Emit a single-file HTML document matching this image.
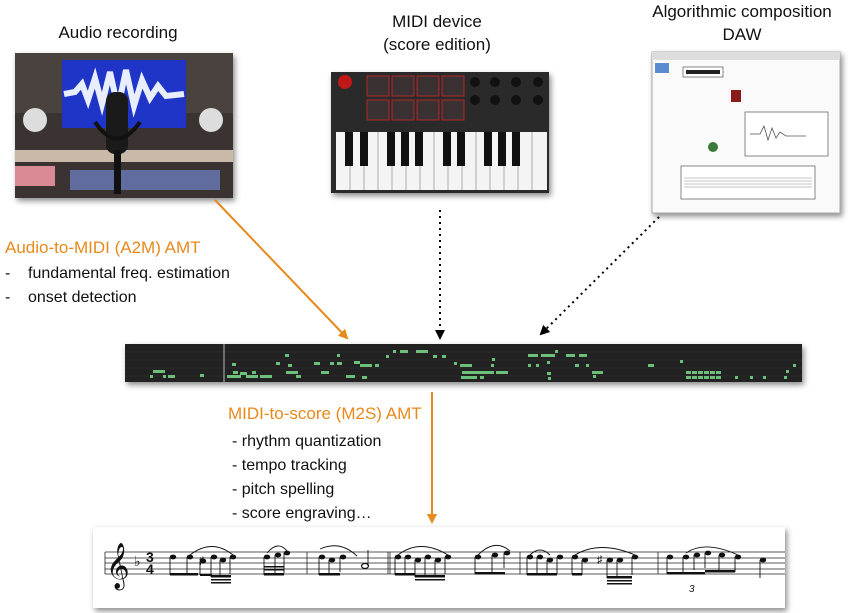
<!DOCTYPE html>
<html><head><meta charset="utf-8"><style>
html,body{margin:0;padding:0;background:#fff;}
svg{display:block;font-family:"Liberation Sans",Arial,sans-serif;}
</style></head><body>
<svg width="850" height="613" viewBox="0 0 850 613" xmlns="http://www.w3.org/2000/svg">
<defs>
<filter id="sh" x="-10%" y="-10%" width="130%" height="140%"><feDropShadow dx="2" dy="3" stdDeviation="3" flood-color="#000" flood-opacity="0.45"/></filter>
<marker id="ao" markerWidth="10" markerHeight="10" refX="8" refY="5" orient="auto" markerUnits="userSpaceOnUse"><path d="M0,0 L10,5 L0,10 z" fill="#e8891c"/></marker>
<marker id="ak" markerWidth="10" markerHeight="10" refX="8" refY="5" orient="auto" markerUnits="userSpaceOnUse"><path d="M0,0 L10,5 L0,10 z" fill="#000"/></marker>
</defs>

<g font-size="17" fill="#111" text-anchor="middle">
<text x="118" y="38">Audio recording</text>
<text x="437" y="27">MIDI device</text>
<text x="437" y="50">(score edition)</text>
<text x="742" y="17">Algorithmic composition</text>
<text x="742" y="40">DAW</text>
</g>

<!-- audio photo -->
<g filter="url(#sh)"><rect x="15" y="53" width="218" height="145" fill="#3a3230"/></g>
<rect x="15" y="53" width="218" height="60" fill="#4a423e"/>
<rect x="62" y="60" width="124" height="68" fill="#1f35c8"/>
<path d="M64,94 L75,92 L82,84 L88,100 L95,78 L102,104 L110,72 L118,108 L126,70 L134,106 L142,80 L150,98 L158,86 L166,96 L184,94" stroke="#e8eefc" stroke-width="6" fill="none"/>
<circle cx="35" cy="120" r="12" fill="#ddd"/><circle cx="211" cy="120" r="12" fill="#ddd"/>
<rect x="15" y="150" width="218" height="12" fill="#c9b9a8"/>
<rect x="15" y="166" width="40" height="20" fill="#d88b95"/>
<rect x="70" y="170" width="150" height="20" fill="#6a7bb8" opacity="0.8"/>
<rect x="106" y="92" width="22" height="62" rx="9" fill="#1a1a1a"/>
<rect x="114" y="150" width="7" height="44" fill="#111"/>
<path d="M95,122 Q117,155 140,122" stroke="#111" stroke-width="4" fill="none"/>

<!-- keyboard -->
<g filter="url(#sh)"><rect x="331" y="72" width="218" height="121" fill="#2a2a2c"/></g>
<circle cx="345" cy="82" r="7" fill="#c01818"/>
<g fill="#3a3232" stroke="#b02828" stroke-width="1">
<rect x="367" y="76" width="22" height="20"/><rect x="392" y="76" width="22" height="20"/><rect x="417" y="76" width="22" height="20"/><rect x="442" y="76" width="22" height="20"/>
<rect x="367" y="100" width="22" height="20"/><rect x="392" y="100" width="22" height="20"/><rect x="417" y="100" width="22" height="20"/><rect x="442" y="100" width="22" height="20"/>
</g>
<g fill="#111"><circle cx="475" cy="82" r="5"/><circle cx="495" cy="82" r="5"/><circle cx="516" cy="82" r="5"/><circle cx="538" cy="82" r="5"/>
<circle cx="475" cy="100" r="5"/><circle cx="495" cy="100" r="5"/><circle cx="516" cy="100" r="5"/><circle cx="538" cy="100" r="5"/></g>
<rect x="336" y="132" width="211" height="58" fill="#f4f4f4"/>
<path d="M350,132V190M364,132V190M378,132V190M392,132V190M406,132V190M420,132V190M434,132V190M448,132V190M462,132V190M476,132V190M490,132V190M504,132V190M518,132V190M532,132V190" stroke="#999" stroke-width="0.8"/>
<g fill="#111"><rect x="345" y="132" width="8" height="34"/><rect x="360" y="132" width="8" height="34"/><rect x="387" y="132" width="8" height="34"/><rect x="401" y="132" width="8" height="34"/><rect x="415" y="132" width="8" height="34"/><rect x="443" y="132" width="8" height="34"/><rect x="457" y="132" width="8" height="34"/><rect x="484" y="132" width="8" height="34"/><rect x="498" y="132" width="8" height="34"/><rect x="512" y="132" width="8" height="34"/></g>

<!-- DAW -->
<g filter="url(#sh)"><rect x="652" y="52" width="188" height="161" fill="#fafafa" stroke="#aaa"/></g>
<rect x="652" y="52" width="188" height="8" fill="#ddd"/>
<rect x="655" y="63" width="14" height="10" fill="#5a8bd0"/>
<rect x="683" y="67" width="40" height="10" fill="#fff" stroke="#555" stroke-width="0.7"/>
<path d="M686,72 h34" stroke="#222" stroke-width="4"/>
<rect x="731" y="90" width="10" height="12" fill="#8b1a1a"/>
<rect x="745" y="112" width="83" height="44" fill="#fff" stroke="#555" stroke-width="0.7"/>
<path d="M750,134 l10,0 l4,-8 l4,14 l4,-12 l4,10 l4,-6 l6,4 l20,0" stroke="#555" fill="none" stroke-width="0.8"/>
<circle cx="713" cy="147" r="5" fill="#3a7a3a"/>
<rect x="681" y="166" width="134" height="33" fill="#fff" stroke="#555" stroke-width="0.7"/>
<path d="M684,178h128M684,181h128M684,184h128M684,187h128" stroke="#888" stroke-width="0.5"/>

<!-- connectors -->
<line x1="215" y1="200" x2="347" y2="338" stroke="#e8891c" stroke-width="2" marker-end="url(#ao)"/>
<line x1="440" y1="210" x2="440" y2="338" stroke="#000" stroke-width="2" stroke-dasharray="2,4" marker-end="url(#ak)"/>
<line x1="659" y1="217" x2="541" y2="334" stroke="#000" stroke-width="2" stroke-dasharray="2,4" marker-end="url(#ak)"/>
<line x1="432" y1="392" x2="432" y2="522" stroke="#e8891c" stroke-width="2" marker-end="url(#ao)"/>

<text x="5" y="253" font-size="17" fill="#e8891c">Audio-to-MIDI (A2M) AMT</text>
<g font-size="16" fill="#111">
<text x="5" y="278">-</text><text x="28" y="278">fundamental freq. estimation</text>
<text x="5" y="302">-</text><text x="28" y="302">onset detection</text>
</g>
<text x="228" y="419" font-size="17" fill="#e8891c">MIDI-to-score (M2S) AMT</text>
<g font-size="16" fill="#111">
<text x="232" y="446">- rhythm quantization</text>
<text x="232" y="470">- tempo tracking</text>
<text x="232" y="494">- pitch spelling</text>
<text x="232" y="518">- score engraving…</text>
</g>

<!-- piano roll -->
<g filter="url(#sh)"><rect x="125" y="344" width="677" height="38" fill="#222"/></g>
<path d="M125,352h677M125,360h677M125,368h677M125,376h677" stroke="#333" stroke-width="0.6"/>
<line x1="224" y1="344" x2="224" y2="382" stroke="#bbb" stroke-width="1"/>
<g fill="#6cc07a">
<rect x="153" y="370" width="12" height="3"/><rect x="150" y="375" width="3" height="3"/><rect x="163" y="375" width="3" height="3"/><rect x="168" y="375" width="7" height="3"/>
<rect x="200" y="374" width="4" height="3"/>
<rect x="227" y="375" width="14" height="3"/><rect x="246" y="375" width="12" height="3"/><rect x="260" y="375" width="12" height="3"/>
<rect x="233" y="371" width="5" height="3"/><rect x="240" y="372" width="7" height="3"/><rect x="252" y="371" width="4" height="3"/>
<rect x="232" y="363" width="4" height="3"/><rect x="286" y="371" width="12" height="3"/><rect x="296" y="375" width="5" height="3"/>
<rect x="276" y="362" width="4" height="3"/><rect x="288" y="364" width="4" height="3"/>
<rect x="285" y="354" width="4" height="3"/><rect x="314" y="362" width="6" height="3"/><rect x="321" y="371" width="8" height="3"/>
<rect x="330" y="362" width="4" height="3"/><rect x="337" y="362" width="5" height="3"/><rect x="337" y="354" width="3" height="3"/>
<rect x="346" y="375" width="9" height="3"/><rect x="354" y="361" width="6" height="3"/><rect x="360" y="364" width="12" height="3"/><rect x="362" y="376" width="5" height="3"/>
<rect x="375" y="364" width="4" height="3"/><rect x="386" y="355" width="3" height="3"/><rect x="393" y="350" width="3" height="3"/>
<rect x="400" y="350" width="8" height="3"/><rect x="416" y="350" width="12" height="3"/><rect x="433" y="355" width="4" height="3"/><rect x="442" y="355" width="4" height="3"/>
<rect x="454" y="362" width="3" height="3"/><rect x="460" y="364" width="12" height="3"/>
<rect x="462" y="371" width="32" height="3"/><rect x="461" y="376" width="16" height="3"/><rect x="480" y="376" width="4" height="3"/><rect x="496" y="371" width="12" height="3"/>
<rect x="491" y="364" width="3" height="3"/><rect x="492" y="358" width="3" height="3"/>
<rect x="528" y="354" width="10" height="3"/><rect x="541" y="354" width="14" height="3"/><rect x="555" y="350" width="3" height="3"/>
<rect x="566" y="354" width="9" height="3"/><rect x="579" y="354" width="8" height="3"/>
<rect x="528" y="364" width="3" height="3"/><rect x="536" y="364" width="3" height="3"/><rect x="547" y="361" width="3" height="3"/>
<rect x="547" y="372" width="4" height="3"/><rect x="548" y="377" width="3" height="3"/>
<rect x="575" y="364" width="4" height="3"/><rect x="586" y="364" width="3" height="3"/>
<rect x="592" y="371" width="11" height="3"/><rect x="593" y="375" width="3" height="3"/>
<rect x="648" y="364" width="6" height="3"/><rect x="680" y="360" width="3" height="3"/>
<rect x="686" y="371" width="5" height="3"/><rect x="692" y="371" width="5" height="3"/><rect x="698" y="371" width="5" height="3"/><rect x="704" y="371" width="5" height="3"/><rect x="710" y="371" width="5" height="3"/><rect x="716" y="371" width="5" height="3"/>
<rect x="686" y="376" width="5" height="3"/><rect x="692" y="376" width="5" height="3"/><rect x="698" y="376" width="5" height="3"/><rect x="704" y="376" width="5" height="3"/><rect x="710" y="376" width="5" height="3"/><rect x="716" y="376" width="5" height="3"/>
<rect x="735" y="376" width="3" height="3"/><rect x="750" y="376" width="3" height="3"/><rect x="763" y="376" width="3" height="3"/><rect x="784" y="376" width="3" height="3"/>
<rect x="786" y="370" width="3" height="3"/><rect x="793" y="364" width="3" height="3"/>
</g>

<!-- score -->
<g filter="url(#sh)"><rect x="93" y="527" width="692" height="81" fill="#fff"/></g>
<g stroke="#222" stroke-width="0.8">
<path d="M105,552h680M105,558h680M105,563h680M105,569h680M105,574h680"/>
<path d="M105,552v22M307,552v22M390,552v22M388,552v22M520,552v22M658,552v22"/>
</g>
<text x="106" y="579" font-size="40" font-family="DejaVu Serif,serif" fill="#111">𝄞</text>
<text x="134" y="566" font-size="14" fill="#111">♭</text>
<text x="146" y="562" font-size="14" font-weight="bold" fill="#111">3</text>
<text x="146" y="574" font-size="14" font-weight="bold" fill="#111">4</text>
<g fill="#111">
<ellipse cx="173" cy="557" rx="3.2" ry="2.4"/><ellipse cx="190" cy="557" rx="3.2" ry="2.4"/><ellipse cx="203" cy="561" rx="3.2" ry="2.4"/><ellipse cx="214" cy="557" rx="3.2" ry="2.4"/><ellipse cx="223" cy="560" rx="3.2" ry="2.4"/><ellipse cx="233" cy="557" rx="3.2" ry="2.4"/>
<ellipse cx="267" cy="557" rx="3.2" ry="2.4"/><ellipse cx="278" cy="555" rx="3.2" ry="2.4"/><ellipse cx="287" cy="553" rx="3.2" ry="2.4"/>
<ellipse cx="322" cy="557" rx="3.2" ry="2.4"/><ellipse cx="332" cy="560" rx="3.2" ry="2.4"/><ellipse cx="343" cy="557" rx="3.2" ry="2.4"/>
<ellipse cx="398" cy="557" rx="3.2" ry="2.4"/><ellipse cx="408" cy="557" rx="3.2" ry="2.4"/><ellipse cx="418" cy="560" rx="3.2" ry="2.4"/><ellipse cx="428" cy="557" rx="3.2" ry="2.4"/><ellipse cx="438" cy="560" rx="3.2" ry="2.4"/><ellipse cx="448" cy="557" rx="3.2" ry="2.4"/><ellipse cx="478" cy="557" rx="3.2" ry="2.4"/><ellipse cx="495" cy="555" rx="3.2" ry="2.4"/><ellipse cx="507" cy="553" rx="3.2" ry="2.4"/>
<ellipse cx="530" cy="557" rx="3.2" ry="2.4"/><ellipse cx="540" cy="557" rx="3.2" ry="2.4"/><ellipse cx="550" cy="560" rx="3.2" ry="2.4"/><ellipse cx="560" cy="557" rx="3.2" ry="2.4"/><ellipse cx="575" cy="557" rx="3.2" ry="2.4"/><ellipse cx="585" cy="560" rx="3.2" ry="2.4"/><ellipse cx="610" cy="560" rx="3.2" ry="2.4"/><ellipse cx="620" cy="560" rx="3.2" ry="2.4"/><ellipse cx="635" cy="557" rx="3.2" ry="2.4"/>
<ellipse cx="670" cy="557" rx="3.2" ry="2.4"/><ellipse cx="686" cy="557" rx="3.2" ry="2.4"/><ellipse cx="697" cy="555" rx="3.2" ry="2.4"/><ellipse cx="708" cy="553" rx="3.2" ry="2.4"/><ellipse cx="722" cy="555" rx="3.2" ry="2.4"/><ellipse cx="738" cy="557" rx="3.2" ry="2.4"/><ellipse cx="763" cy="560" rx="3.2" ry="2.4"/>
</g>
<ellipse cx="365" cy="566" rx="3.5" ry="2.5" fill="none" stroke="#111" stroke-width="1.2"/>
<g stroke="#111" stroke-width="0.9" fill="none">
<path d="M170,557v18M187,557v18M200,561v14M211,557v20M220,560v17M230,557v17M264,557v18M275,555v18M284,553v20M319,557v18M329,560v15M340,557v15M368,566v-16"/>
<path d="M395,557v18M405,557v18M415,560v17M425,557v20M435,560v17M445,557v17M475,557v17M492,555v17M504,553v15M527,557v18M537,557v18M547,560v15M557,557v17M572,557v17M582,560v15M607,560v18M617,560v18M632,557v18M667,557v17M683,557v17M694,555v15M705,553v15M719,555v15M735,557v15M760,560v18"/>
<path d="M190,555 Q212,538 233,555M267,553 Q278,540 287,551M320,549 Q340,540 357,556M398,555 Q420,538 448,555M478,555 Q495,538 510,551M530,555 Q540,545 550,555M575,555 Q600,540 635,555M686,553 Q705,540 738,555"/>
</g>
<g fill="#111">
<path d="M170,573h28v2.5h-28zM200,574h12v2h-12zM211,575h20v2.5h-20zM211,579h20v1.5h-20zM211,582h20v1.5h-20zM264,573h20v2.5h-20zM264,569h20v1.5h-20zM264,566h20v1.5h-20zM319,573h21v2.5h-21z"/>
<path d="M395,573h20v2.5h-20zM415,575h30v2.5h-30zM415,579h30v1.5h-30zM475,572h30v2.5h-30zM527,573h30v2.5h-30zM572,573h10v2.5h-10zM607,576h25v2.5h-25zM607,580h25v1.5h-25zM607,583h25v1.5h-25zM667,572h38v2.5h-38zM705,570h30v2.5h-30z"/>
</g>
<text x="597" y="563" font-size="11" fill="#111">♯</text>
<text x="199" y="564" font-size="11" fill="#111">♯</text>
<text x="689" y="592" font-size="10" font-style="italic" fill="#111">3</text>
</svg>
</body></html>
